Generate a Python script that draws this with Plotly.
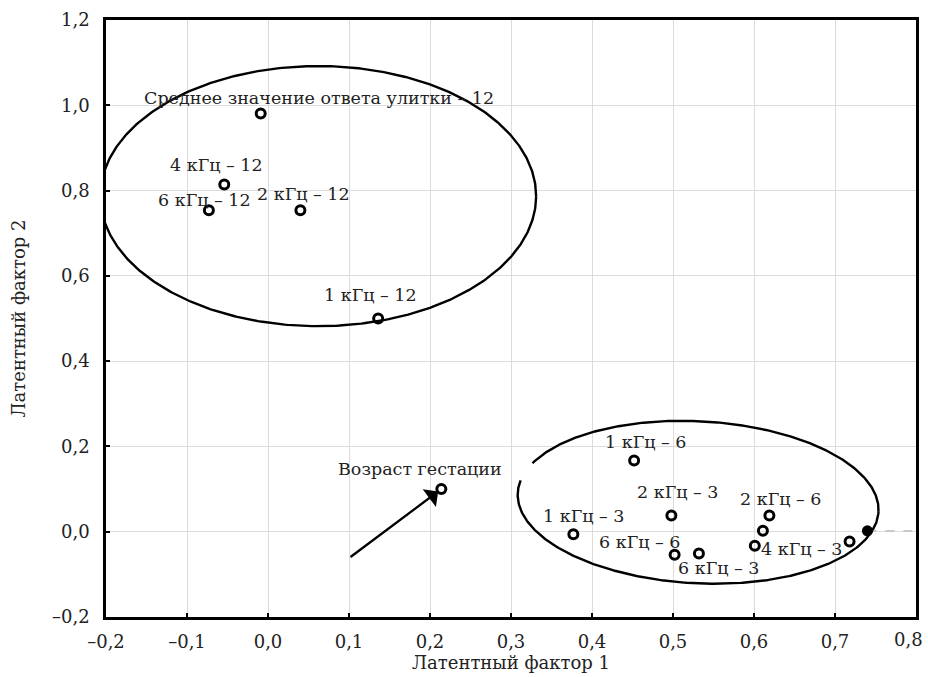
import numpy as np
import plotly.graph_objects as go

# ---------------- data ----------------
pt_x = [-0.009, -0.054, -0.073, 0.040, 0.136,
        0.452, 0.498, 0.377, 0.502, 0.532, 0.619, 0.611, 0.601, 0.718]
pt_y = [0.981, 0.814, 0.754, 0.754, 0.500,
        0.167, 0.038, -0.006, -0.054, -0.051, 0.038, 0.002, -0.033, -0.023]

solid_x = [0.740]
solid_y = [0.002]

gest_x = [0.214]
gest_y = [0.100]
arrow_tail_x = [0.100]
arrow_tail_y = [-0.062]

label_text = ["Среднее значение ответа улитки – 12", "4 кГц – 12", "6 кГц – 12",
              "2 кГц – 12", "1 кГц – 12", "1 кГц – 6", "2 кГц – 3", "2 кГц – 6",
              "1 кГц – 3", "6 кГц – 6", "6 кГц – 3", "4 кГц – 3", "Возраст гестации"]
label_x = [0.063, -0.064, -0.078, 0.044, 0.127, 0.466, 0.505, 0.633,
           0.389, 0.459, 0.556, 0.659, 0.188]
label_y = [1.017, 0.859, 0.779, 0.793, 0.554, 0.211, 0.092, 0.077,
           0.038, -0.023, -0.085, -0.041, 0.148]

# ellipses: centre x, centre y, semi-axis x, semi-axis y, rotation (deg)
ell_cx = [0.062, 0.531]
ell_cy = [0.787, 0.069]
ell_rx = [0.269, 0.223]
ell_ry = [0.305, 0.190]
ell_rot = [0.0, -3.0]

x_tickvals = [-0.2, -0.1, 0.0, 0.1, 0.2, 0.3, 0.4, 0.5, 0.6, 0.7, 0.8]
x_ticktext = ["–0,2", "–0,1", "0,0", "0,1", "0,2", "0,3", "0,4", "0,5", "0,6", "0,7", "0,8"]
y_tickvals = [-0.2, 0.0, 0.2, 0.4, 0.6, 0.8, 1.0, 1.2]
y_ticktext = ["–0,2", "0,0", "0,2", "0,4", "0,6", "0,8", "1,0", "1,2"]

x_title = "Латентный фактор 1"
y_title = "Латентный фактор 2"

# ---------------- figure ----------------
W, H = 928, 677
ML, MR, MT, MB = 106, 9, 15, 60
XR = [-0.2, 0.8]
YR = [-0.2, 1.2]
kx = (W - ML - MR) / (XR[1] - XR[0])
ky = (H - MT - MB) / (YR[1] - YR[0])

FONT = "DejaVu Serif"
TXT = "#222222"
fig = go.Figure()


def ellipse(cx, cy, rx, ry, rot, gap=None):
    t = np.linspace(0, 2 * np.pi, 500)
    u = rx * kx * np.cos(t)
    v = ry * ky * np.sin(t)
    th = np.deg2rad(rot)
    X = u * np.cos(th) - v * np.sin(th)
    Y = u * np.sin(th) + v * np.cos(th)
    xs = cx + X / kx
    ys = cy + Y / ky
    xo = xs.astype(object)
    yo = ys.astype(object)
    if gap is not None:
        m = (xs < gap[0]) & (ys > gap[1])
        xo[m] = None
        yo[m] = None
    return list(xo), list(yo)


for i in range(len(ell_cx)):
    gap = (0.326, 0.122) if i == 1 else None
    ex, ey = ellipse(ell_cx[i], ell_cy[i], ell_rx[i], ell_ry[i], ell_rot[i], gap)
    fig.add_trace(go.Scatter(x=ex, y=ey, mode="lines",
                             line=dict(color="black", width=2.4),
                             hoverinfo="skip", showlegend=False))

# faint dashed line from the solid point to the frame
fig.add_trace(go.Scatter(x=[solid_x[0], XR[1]], y=[solid_y[0], solid_y[0]], mode="lines",
                         line=dict(color="#aaaaaa", width=1, dash="dash"),
                         hoverinfo="skip", showlegend=False))

fig.add_trace(go.Scatter(x=pt_x + gest_x, y=pt_y + gest_y, mode="markers",
                         marker=dict(symbol="circle-open", size=9, color="black",
                                     line=dict(width=3, color="black")),
                         showlegend=False))
fig.add_trace(go.Scatter(x=solid_x, y=solid_y, mode="markers",
                         marker=dict(symbol="circle", size=11, color="black"),
                         showlegend=False))

for t, x, y in zip(label_text, label_x, label_y):
    fig.add_annotation(x=x, y=y, text=t, showarrow=False,
                       font=dict(family=FONT, size=17.5, color=TXT),
                       xanchor="center", yanchor="middle")

fig.add_annotation(x=gest_x[0], y=gest_y[0], ax=arrow_tail_x[0], ay=arrow_tail_y[0],
                   xref="x", yref="y", axref="x", ayref="y", text="",
                   showarrow=True, arrowhead=1, arrowsize=1.6, arrowwidth=2.3,
                   arrowcolor="black", standoff=4)

# last x tick label sits slightly left of the frame corner (as in the reference)
x_ticktext_drawn = x_ticktext[:-1] + [""]
fig.add_annotation(x=1, y=0, xref="paper", yref="paper", text=x_ticktext[-1],
                   showarrow=False, xanchor="center", yanchor="top",
                   xshift=-8, yshift=-10,
                   font=dict(family=FONT, size=18, color=TXT))

axis_common = dict(showgrid=True, gridcolor="#dcdcdc", gridwidth=1,
                   showline=True, linecolor="black", linewidth=2.6, mirror=True,
                   ticks="inside", ticklen=4, tickwidth=2, tickcolor="black",
                   zeroline=False,
                   tickfont=dict(family=FONT, size=18, color=TXT),
                   title_font=dict(family=FONT, size=18, color=TXT))

fig.update_xaxes(range=XR, tickvals=x_tickvals, ticktext=x_ticktext_drawn,
                 title_text=x_title, title_standoff=2, ticklabelstandoff=7,
                 **axis_common)
fig.update_yaxes(range=YR, tickvals=y_tickvals, ticktext=y_ticktext,
                 title_text=y_title, title_standoff=22, ticklabelstandoff=10,
                 **axis_common)

fig.update_layout(width=W, height=H, margin=dict(l=ML, r=MR, t=MT, b=MB),
                  plot_bgcolor="white", paper_bgcolor="white",
                  font=dict(family=FONT))

fig.write_html("out.html", config={"displayModeBar": False},
               post_script="document.body.style.margin='0px';document.body.style.padding='0px';")
